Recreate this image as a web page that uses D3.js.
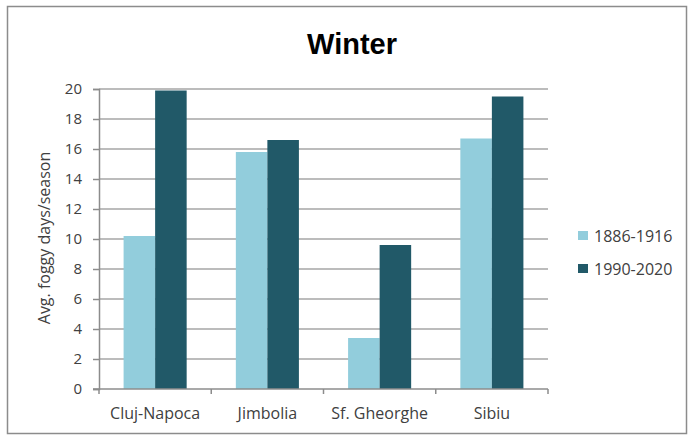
<!DOCTYPE html>
<html>
<head>
<meta charset="utf-8">
<script src="https://cdn.jsdelivr.net/npm/d3@7"></script>
<style>
  html, body { margin: 0; padding: 0; background: #fff; }
  svg { display: block; }
  text { font-family: "Open Sans", "Liberation Sans", Arial, sans-serif; fill: #404040; }
  text.chart-title { fill: #000; font-family: "Liberation Sans", Arial, sans-serif; }
</style>
</head>
<body>
<div id="chart"></div>
<script>
// Winter fog frequency by station, two climate periods
const stations = ["Cluj-Napoca", "Jimbolia", "Sf. Gheorghe", "Sibiu"];
const seriesNames = ["1886-1916", "1990-2020"];
const early = [10.2, 15.8, 3.4, 16.7];
const recent = [19.9, 16.6, 9.6, 19.5];
const yTicks = [0, 2, 4, 6, 8, 10, 12, 14, 16, 18, 20];
const colors = ["#92cddc", "#215968"];

const W = 690, H = 437;
const FONT = "Open Sans, Liberation Sans, Arial, sans-serif";
const svg = d3.select("#chart").append("svg").attr("width", W).attr("height", H);

// outer chart frame
svg.append("rect")
  .attr("x", 7.5).attr("y", 6.5).attr("width", 679).attr("height", 427)
  .attr("fill", "#fff").attr("stroke", "#8c8c8c").attr("stroke-width", 1.5);

const plot = { left: 99, right: 548, top: 89, bottom: 389 };

const x = d3.scaleBand().domain(stations).range([plot.left, plot.right]).padding(0);
const inner = d3.scaleBand().domain(seriesNames).range([0, x.bandwidth()]).paddingOuter(0.78).paddingInner(0);
const y = d3.scaleLinear().domain([0, 20]).range([plot.bottom, plot.top]);

// horizontal gridlines
svg.append("g").selectAll("line").data(yTicks.filter(d => d > 0)).join("line")
  .attr("x1", plot.left).attr("x2", plot.right)
  .attr("y1", d => y(d)).attr("y2", d => y(d))
  .attr("stroke", "#a6a6a6").attr("stroke-width", 1.5);

// bars
const rows = stations.map((s, i) => ({ station: s, values: [early[i], recent[i]] }));
const groups = svg.append("g").selectAll("g").data(rows).join("g")
  .attr("transform", d => `translate(${x(d.station)},0)`);
groups.selectAll("rect").data(d => d.values.map((v, k) => ({ k, v }))).join("rect")
  .attr("x", d => inner(seriesNames[d.k]))
  .attr("width", inner.bandwidth())
  .attr("y", d => y(d.v))
  .attr("height", d => y(0) - y(d.v))
  .attr("fill", d => colors[d.k]);

// y axis
const yAxis = svg.append("g").attr("transform", `translate(${plot.left},0)`)
  .call(d3.axisLeft(y).tickValues(yTicks).tickSize(6).tickPadding(11));
yAxis.select(".domain").attr("stroke", "#8c8c8c").attr("stroke-width", 1.5);
yAxis.selectAll(".tick line").attr("stroke", "#8c8c8c").attr("stroke-width", 1.5);
yAxis.selectAll(".tick text").attr("font-size", 15).attr("fill", "#404040")
  .attr("font-family", FONT);

// x axis with ticks between categories
const xAxisG = svg.append("g");
xAxisG.append("line")
  .attr("x1", plot.left - 6).attr("x2", plot.right)
  .attr("y1", plot.bottom).attr("y2", plot.bottom)
  .attr("stroke", "#8c8c8c").attr("stroke-width", 1.5);
const bounds = stations.map(s => x(s)).concat([x(stations[stations.length - 1]) + x.bandwidth()]);
xAxisG.selectAll("line.tk").data(bounds).join("line").attr("class", "tk")
  .attr("x1", d => d).attr("x2", d => d)
  .attr("y1", plot.bottom).attr("y2", plot.bottom + 5)
  .attr("stroke", "#8c8c8c").attr("stroke-width", 1.5);
xAxisG.selectAll("text").data(stations).join("text")
  .attr("x", d => x(d) + x.bandwidth() / 2)
  .attr("y", 419)
  .attr("text-anchor", "middle")
  .attr("font-size", 16)
  .text(d => d);

// title
svg.append("text")
  .attr("class", "chart-title")
  .attr("x", 352).attr("y", 54)
  .attr("text-anchor", "middle")
  .attr("font-size", 29).attr("font-weight", "bold")
  .text("Winter");

// y axis title
svg.append("text")
  .attr("transform", `translate(50,${238}) rotate(-90)`)
  .attr("text-anchor", "middle")
  .attr("font-size", 16)
  .text("Avg. foggy days/season");

// legend
const legend = svg.append("g").selectAll("g").data(seriesNames).join("g")
  .attr("transform", (d, i) => `translate(578,${236 + i * 33})`);
legend.append("rect").attr("x", 0).attr("y", -5).attr("width", 10).attr("height", 9)
  .attr("fill", (d, i) => colors[i]);
legend.append("text").attr("x", 16).attr("y", 6).attr("font-size", 16).text(d => d);
</script>
</body>
</html>
